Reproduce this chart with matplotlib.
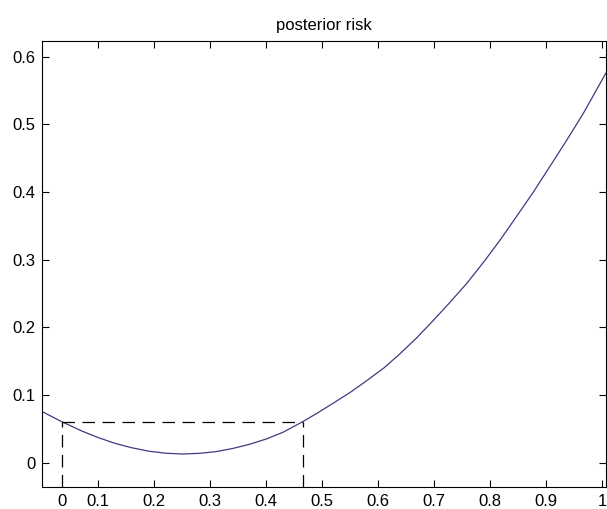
import matplotlib
matplotlib.use("Agg")
import matplotlib.pyplot as plt

# curve
risk_x = [0.000, 0.0346, 0.07, 0.10, 0.13, 0.16, 0.19, 0.22, 0.25, 0.28,
          0.31, 0.34, 0.37, 0.40, 0.43, 0.465, 0.4925, 0.5196, 0.55, 0.579,
          0.61, 0.6388, 0.668, 0.698, 0.728, 0.758, 0.7905, 0.8175, 0.847,
          0.877, 0.9066, 0.936, 0.966, 1.0066]
risk_y = [0.0753, 0.0606, 0.0470, 0.0370, 0.0285, 0.0220, 0.0170, 0.0140, 0.0128, 0.0138,
          0.0163, 0.0210, 0.0272, 0.0350, 0.0450, 0.0606, 0.0740, 0.0880, 0.1040, 0.1210,
          0.1400, 0.1610, 0.1840, 0.2100, 0.2370, 0.2650, 0.2990, 0.3290, 0.3640,
          0.4000, 0.4380, 0.4760, 0.5160, 0.5760]

# dashed guide
guide_x = [0.0346, 0.465]
guide_level = 0.0606

xtick_pos = [0.0346, 0.1, 0.2, 0.3, 0.4, 0.5, 0.6, 0.7, 0.8, 0.9, 1.0]
xtick_labels = ["0", "0.1", "0.2", "0.3", "0.4", "0.5", "0.6", "0.7", "0.8", "0.9", "1"]
ytick_pos = [0, 0.1, 0.2, 0.3, 0.4, 0.5, 0.6]
ytick_labels = ["0", "0.1", "0.2", "0.3", "0.4", "0.5", "0.6"]

plt.rcParams['font.family'] = ['Liberation Sans', 'DejaVu Sans']

fig = plt.figure(figsize=(6.07, 5.09), dpi=100)
ax = fig.add_axes([0.0697, 0.0438, 0.9287, 0.8756])

ymin, ymax = -0.0355, 0.623
ax.plot(risk_x, risk_y, color='#3c3c82', lw=0.9, solid_joinstyle='round')

dash = (0, (10, 6))
ax.plot(guide_x, [guide_level, guide_level], color='black', lw=0.9, linestyle=dash)
for gx in guide_x:
    ax.plot([gx, gx], [ymin, guide_level], color='black', lw=0.9, linestyle=dash)

ax.set_xlim(0, 1.0066)
ax.set_ylim(ymin, ymax)
ax.set_xticks(xtick_pos)
ax.set_xticklabels(xtick_labels)
ax.set_yticks(ytick_pos)
ax.set_yticklabels(ytick_labels)
ax.tick_params(direction='in', top=True, right=True, length=5, width=0.8,
               labelsize=12, pad=5, colors='black')
t0 = ax.xaxis.get_major_ticks()[0]
t0.tick1line.set_visible(False)
t0.tick2line.set_visible(False)
for s in ax.spines.values():
    s.set_linewidth(0.8)

ax.set_title("posterior risk", fontsize=12, pad=8)

fig.savefig("out.png", dpi=100)
